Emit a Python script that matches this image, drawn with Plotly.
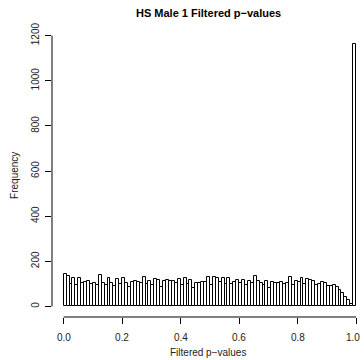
import plotly.graph_objects as go

bin_starts = [i / 100 for i in range(100)]
counts = [
    145, 135, 100, 128, 97, 126, 103, 108, 112, 98,
    104, 96, 140, 105, 97, 127, 104, 92, 123, 99,
    128, 104, 88, 110, 112, 108, 102, 129, 100, 115,
    96, 120, 119, 85, 113, 117, 114, 113, 105, 120,
    93, 125, 100, 118, 80, 105, 103, 110, 107, 130,
    96, 132, 124, 108, 127, 98, 125, 98, 108, 119,
    104, 116, 95, 111, 103, 136, 112, 105, 95, 113,
    80, 108, 102, 106, 110, 98, 102, 132, 96, 112,
    110, 128, 100, 122, 116, 114, 95, 98, 108, 104,
    92, 90, 97, 86, 72, 60, 44, 28, 10, 1165,
]
bin_width = 0.01
x_ticks = [0.0, 0.2, 0.4, 0.6, 0.8, 1.0]
y_ticks = [0, 200, 400, 600, 800, 1000, 1200]

title = "HS Male 1 Filtered p\u2212values"
x_title = "Filtered p\u2212values"
y_title = "Frequency"

FONT = "Liberation Sans, Arial, Helvetica, sans-serif"

fig = go.Figure()
fig.add_trace(go.Bar(
    x=[s + bin_width / 2 for s in bin_starts],
    y=counts,
    width=bin_width,
    marker=dict(color="white", line=dict(color="black", width=1)),
    hoverinfo="skip",
))

ymax = max(counts)
yr = [-0.04 * ymax, 1.04 * ymax]

annotations = [
    dict(text=f"<b>{title}</b>", xref="paper", yref="paper", x=0.5, y=1.072,
         xanchor="center", yanchor="middle", showarrow=False,
         font=dict(size=11, color="black")),
    dict(text=x_title, xref="paper", yref="paper", x=0.5, y=-0.125,
         xanchor="center", yanchor="middle", showarrow=False,
         font=dict(size=10, color="#222")),
    dict(text=y_title, xref="paper", yref="paper", x=-0.122, y=0.5,
         xanchor="center", yanchor="middle", showarrow=False, textangle=-90,
         font=dict(size=10, color="#222")),
]
for v in x_ticks:
    last = v == x_ticks[-1]
    annotations.append(dict(text=f"{v:.1f}", xref="x", yref="paper", x=v, y=-0.071,
                            xanchor="right" if last else "center",
                            xshift=5 if last else 0,
                            yanchor="middle", showarrow=False,
                            borderpad=0,
                            font=dict(size=10, color="#222")))

fig.update_layout(
    width=364, height=360,
    margin=dict(l=52, r=0, t=33, b=43),
    plot_bgcolor="white", paper_bgcolor="white",
    showlegend=False,
    bargap=0,
    font=dict(family=FONT, size=10, color="black"),
    xaxis=dict(
        range=[-0.04, 1.027], tickvals=x_ticks,
        showticklabels=False,
        ticks="outside", ticklen=6, tickcolor="black", tickwidth=1,
        showgrid=False, zeroline=False, showline=False,
    ),
    yaxis=dict(
        range=yr, tickvals=y_ticks,
        ticks="outside", ticklen=6, tickcolor="black", tickwidth=1,
        tickangle=-90, ticklabelstandoff=2,
        showgrid=False, zeroline=False, showline=False,
        tickfont=dict(size=10, color="#222"),
    ),
    shapes=[
        dict(type="line", xref="x", yref="paper", x0=0, x1=1, y0=0, y1=0,
             line=dict(color="black", width=1)),
        dict(type="line", xref="paper", yref="y", x0=0, x1=0, y0=0, y1=1200,
             line=dict(color="black", width=1)),
    ],
    annotations=annotations,
)

fig.write_html("out.html")
